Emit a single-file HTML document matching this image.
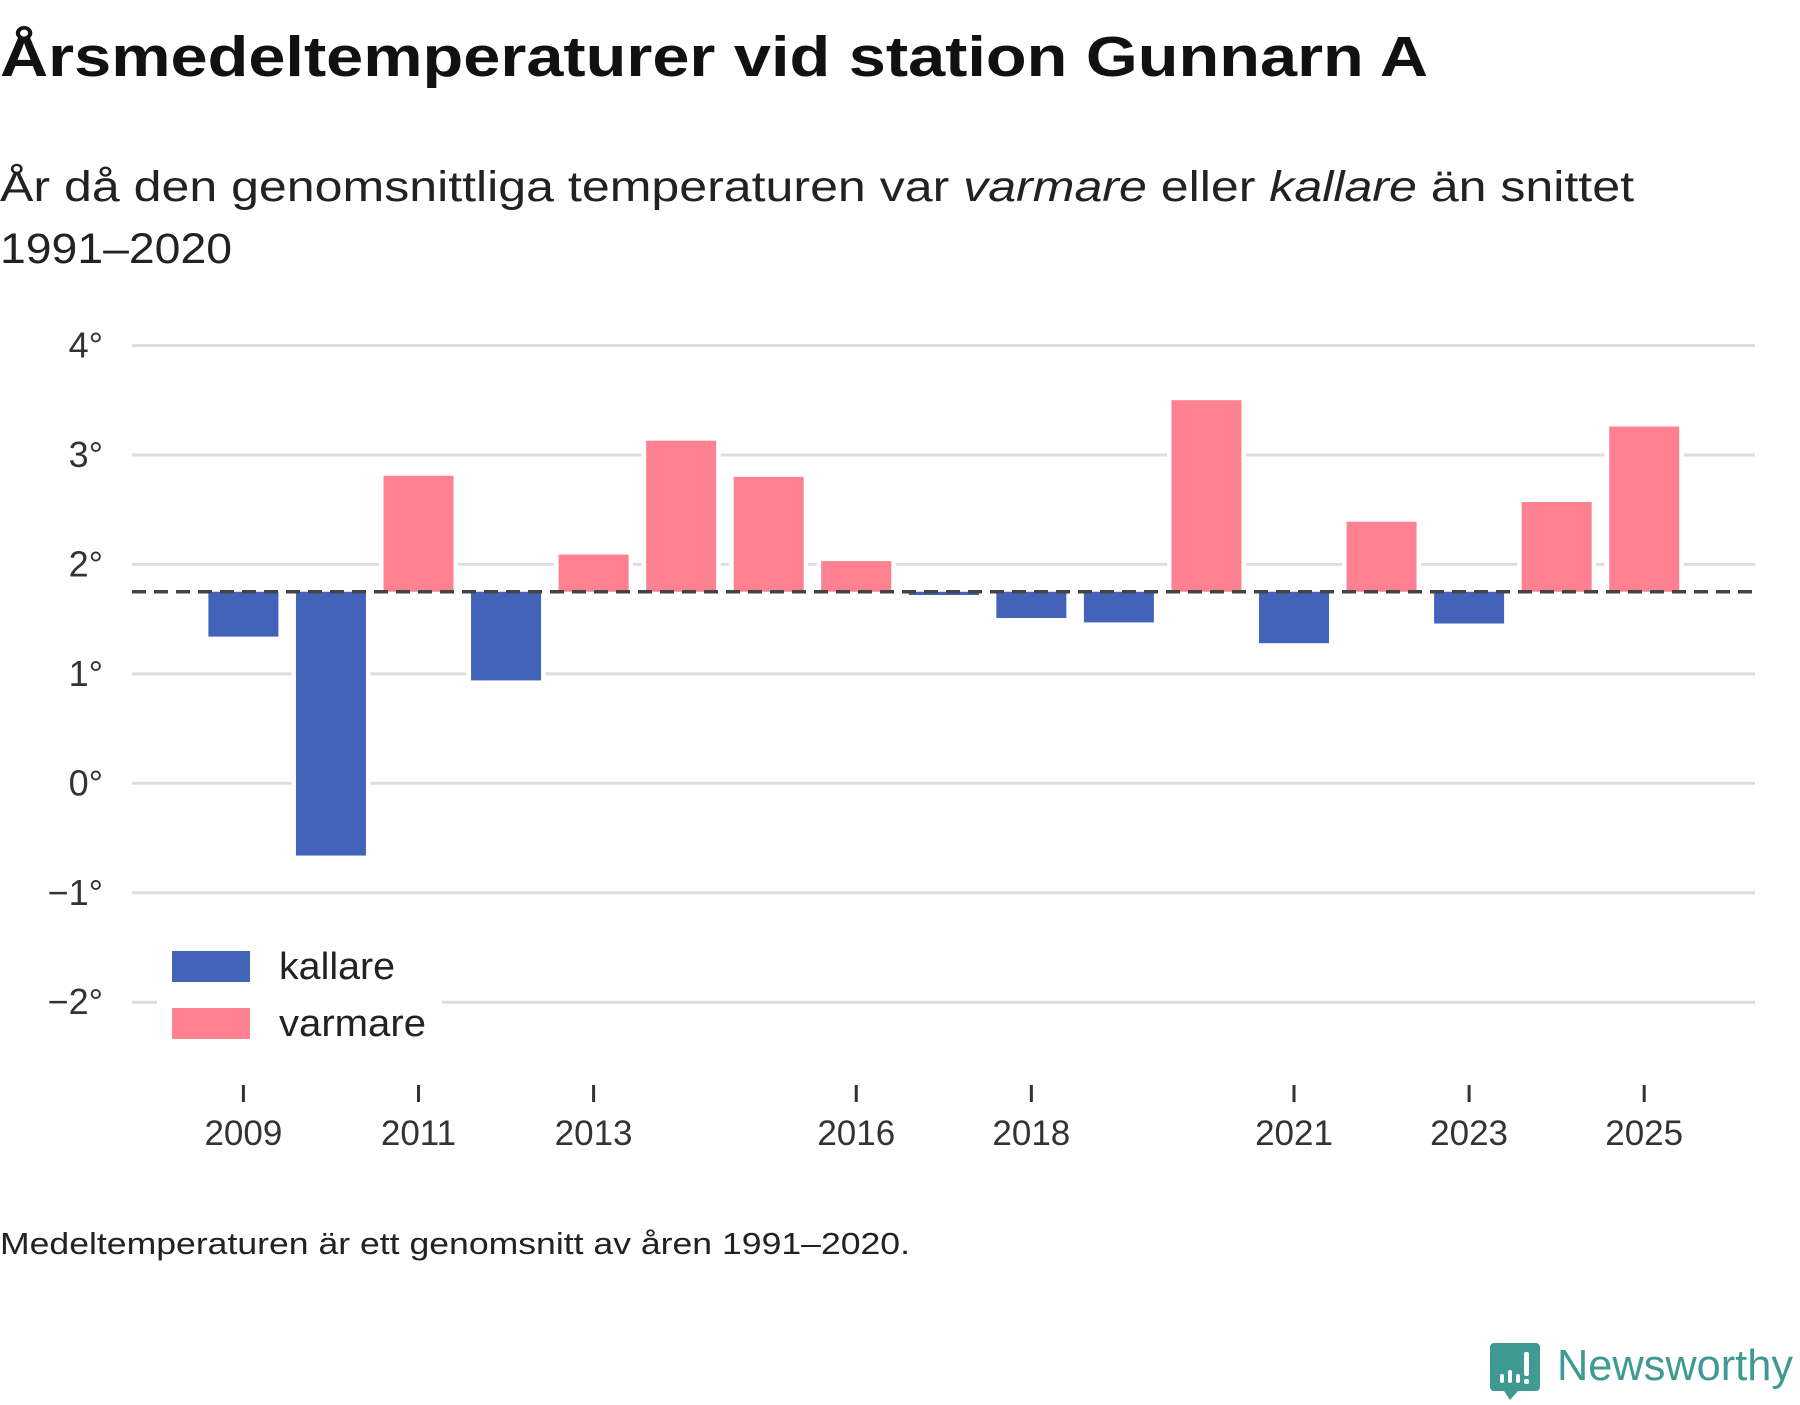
<!DOCTYPE html>
<html><head><meta charset="utf-8"><style>
html,body{margin:0;padding:0;background:#fff;}
body{width:1800px;height:1400px;overflow:hidden;font-family:"Liberation Sans",sans-serif;}
</style></head><body>
<svg id="chart" width="1800" height="1400" viewBox="0 0 1800 1400" xmlns="http://www.w3.org/2000/svg" font-family="Liberation Sans, sans-serif">
<text x="0" y="76" font-size="57" font-weight="bold" fill="#111" textLength="1428" lengthAdjust="spacingAndGlyphs">Årsmedeltemperaturer vid station Gunnarn A</text>
<text x="0" y="201" font-size="43" fill="#222" textLength="1634" lengthAdjust="spacingAndGlyphs">År då den genomsnittliga temperaturen var <tspan font-style="italic">varmare</tspan> eller <tspan font-style="italic">kallare</tspan> än snittet</text>
<text x="0" y="263" font-size="43" fill="#222" textLength="232" lengthAdjust="spacingAndGlyphs">1991–2020</text>
<g id="grid"></g>
<g id="bars"></g>
<g id="xaxis"></g>
<g>
<rect x="157" y="940" width="285" height="108" fill="#fff"/>
<rect x="172" y="951" width="78" height="31" fill="#4263b8"/>
<text x="279" y="979" font-size="38" fill="#222" textLength="116" lengthAdjust="spacingAndGlyphs">kallare</text>
<rect x="172" y="1008" width="78" height="31" fill="#fe8191"/>
<text x="279" y="1036" font-size="38" fill="#222" textLength="147" lengthAdjust="spacingAndGlyphs">varmare</text>
</g>
<text x="0" y="1254" font-size="31" fill="#222" textLength="910" lengthAdjust="spacingAndGlyphs">Medeltemperaturen är ett genomsnitt av åren 1991–2020.</text>
<g>
<path d="M1494 1343 h42 a4 4 0 0 1 4 4 v40 a4 4 0 0 1 -4 4 h-18 l-8 9 l-6 -9 h-10 a4 4 0 0 1 -4 -4 v-40 a4 4 0 0 1 4 -4z" fill="#3f9a93"/>
<rect x="1500" y="1374" width="4" height="9" rx="2" fill="#fff"/>
<rect x="1508" y="1370" width="4" height="13" rx="2" fill="#fff"/>
<rect x="1516" y="1374" width="4" height="9" rx="2" fill="#fff"/>
<rect x="1524" y="1352" width="5" height="24" rx="2" fill="#fff"/>
<rect x="1524" y="1379" width="5" height="5" rx="2" fill="#fff"/>
<text x="1557" y="1380" font-size="44" fill="#3f9a93" textLength="236" lengthAdjust="spacingAndGlyphs">Newsworthy</text>
</g>
</svg>
<script>
const years = [2009,2010,2011,2012,2013,2014,2015,2016,2017,2018,2019,2020,2021,2022,2023,2024,2025];
const temps = [1.34,-0.66,2.81,0.94,2.09,3.13,2.80,2.03,1.72,1.51,1.47,3.50,1.28,2.39,1.46,2.57,3.26];
const meanTemp = 1.75;
const yTicks = [4,3,2,1,0,-1,-2];
const yTickLabels = ["4°","3°","2°","1°","0°","−1°","−2°"];
const xTickYears = [2009,2011,2013,2016,2018,2021,2023,2025];

const NS = "http://www.w3.org/2000/svg";
const plotL = 132, plotR = 1755;
function yScale(v){ return 783.3 - v * 109.45; }
function xScale(yr){ return 243.4 + (yr - 2009) * 87.55; }
const barW = 70;
function mk(tag, attrs, parent){
  const e = document.createElementNS(NS, tag);
  for (const k in attrs) e.setAttribute(k, attrs[k]);
  parent.appendChild(e);
  return e;
}
const grid = document.getElementById('grid');
yTicks.forEach((t,i)=>{
  const l = mk('line',{x1:plotL,x2:plotR,y1:yScale(t),y2:yScale(t),stroke:'#dedede','stroke-width':3},grid);
  
  
  const tx = mk('text',{x:103,y:yScale(t)+12,'font-size':36,fill:'#333','text-anchor':'end'},grid);
  tx.textContent = yTickLabels[i];
  
  
});
const bars = document.getElementById('bars');
years.forEach((yr,i)=>{
  const v = temps[i];
  const y0 = yScale(meanTemp), y1 = yScale(v);
  const r = mk('rect',{x:xScale(yr)-barW/2,y:Math.min(y0,y1),width:barW,height:Math.max(1,Math.abs(y1-y0)),
    fill: v < meanTemp ? '#4263b8' : '#fe8191', stroke:'#fff','stroke-width':9,'paint-order':'stroke'},bars);
  
  
});
const dl = mk('line',{x1:plotL,x2:plotR,y1:yScale(meanTemp),y2:yScale(meanTemp),stroke:'#444','stroke-width':3.5,'stroke-dasharray':'14 8'},bars);


const xa = document.getElementById('xaxis');
xTickYears.forEach(yr=>{
  const t = mk('line',{x1:xScale(yr),x2:xScale(yr),y1:1085,y2:1102,stroke:'#333','stroke-width':3},xa);
  
  
  const tx = mk('text',{x:xScale(yr),y:1145,'font-size':35,fill:'#333','text-anchor':'middle'},xa);
  tx.textContent = yr;
  
  
});
</script>
</body></html>
